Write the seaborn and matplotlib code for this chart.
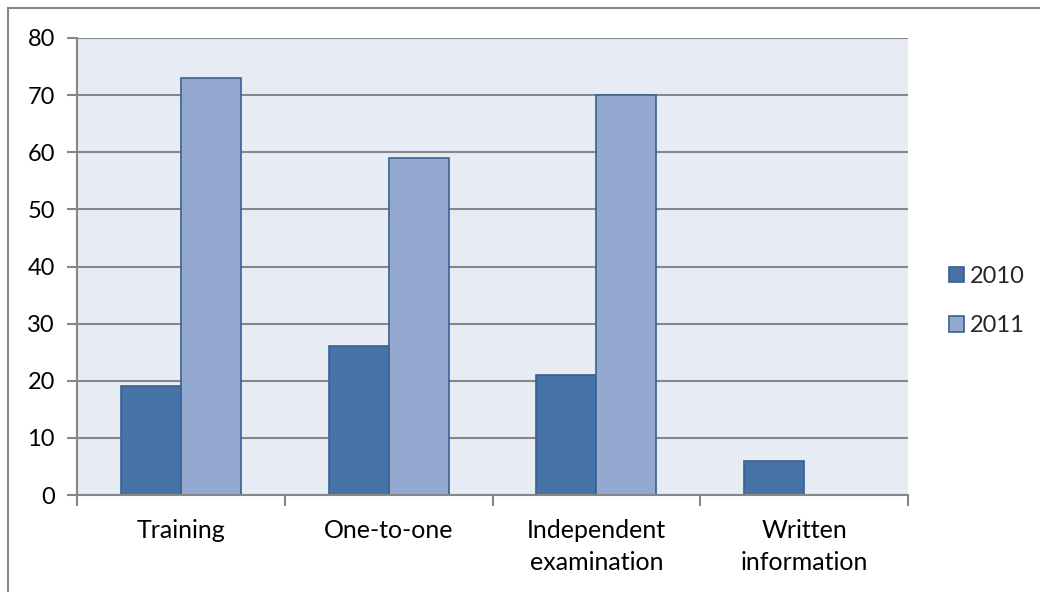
import matplotlib
matplotlib.use("Agg")
import matplotlib.pyplot as plt
import seaborn as sns
import pandas as pd
import numpy as np
from matplotlib.patches import Rectangle

categories = ["Training", "One-to-one", "Independent\nexamination", "Written\ninformation"]
years = ["2010", "2011"]
values_2010 = [19, 26, 21, 6]
values_2011 = [73, 59, 70, 0]

df = pd.DataFrame({
    "category": categories * 2,
    "year": [years[0]] * 4 + [years[1]] * 4,
    "value": values_2010 + values_2011,
})

sns.set_theme(style="white")
plt.rcParams["font.family"] = ["Lato", "DejaVu Sans"]

fig = plt.figure(figsize=(10.4, 5.92), dpi=100)
ax = fig.add_axes([77 / 1040, 1 - 495 / 592, (908 - 77) / 1040, (495 - 38) / 592])

palette = {"2010": "#4572A7", "2011": "#93A9CF"}
sns.barplot(data=df, x="category", y="value", hue="year", palette=palette,
            order=categories, hue_order=years, width=0.577,
            edgecolor="#3B6090", linewidth=1.2, saturation=1, ax=ax, legend=True)

ax.set_facecolor("#E7EBF3")
ax.set_ylim(0, 80)
ax.set_xlim(-0.5, 3.5)
ax.set_yticks(np.arange(0, 81, 10))
ax.set_yticklabels([str(v) for v in range(0, 81, 10)])
ax.yaxis.grid(True, color="#878787", linewidth=1.5)
ax.set_axisbelow(True)
ax.set_xlabel("")
ax.set_ylabel("")

for s in ["top", "right"]:
    ax.spines[s].set_visible(False)
for s in ["left", "bottom"]:
    ax.spines[s].set_color("#878787")
    ax.spines[s].set_linewidth(1.5)

ax.tick_params(axis="y", which="major", left=True, length=7, width=1.5, color="#878787",
               labelcolor="black", pad=9)
ax.tick_params(axis="x", which="major", bottom=False, labelcolor="black", pad=11)
ax.set_xticks(np.arange(-0.5, 3.6, 1), minor=True)
ax.tick_params(axis="x", which="minor", bottom=True, length=8, width=1.5, color="#878787")
for lbl in ax.get_yticklabels():
    lbl.set_fontsize(17)
for lbl in ax.get_xticklabels():
    lbl.set_fontsize(18)
    lbl.set_horizontalalignment("center")
    lbl.set_linespacing(1.5)

leg = ax.legend(loc="center left", bbox_to_anchor=(1.024, 0.424), frameon=False,
                fontsize=17, handlelength=0.62, handleheight=0.62, handletextpad=0.25,
                labelspacing=1.2)

fig.patches.append(Rectangle((8 / 1040, -0.05), 1.2, 1 - 8 / 592 + 0.05,
                             transform=fig.transFigure, fill=False,
                             edgecolor="#878787", linewidth=1.5))

fig.savefig("out.png", dpi=100, facecolor="white")
